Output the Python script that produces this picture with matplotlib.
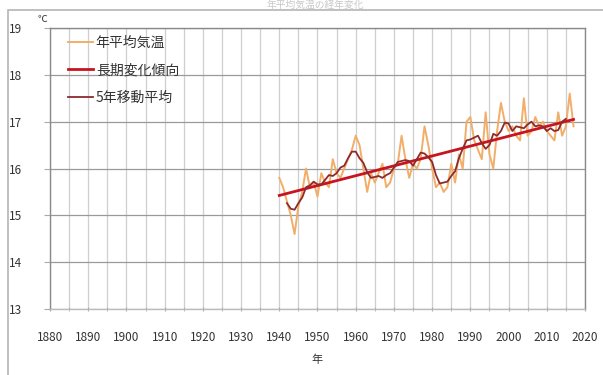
import matplotlib
matplotlib.use("Agg")
import matplotlib.pyplot as plt
from matplotlib.patches import Rectangle
import numpy as np
import pandas as pd

plt.rcParams['font.family'] = ['Noto Sans CJK JP', 'DejaVu Sans']

# Annual mean temperature (°C), 1940-2017
years = list(range(1940, 2018))
annual_temp = [
    15.8, 15.6, 15.3, 15.0, 14.6, 15.2, 15.5, 16.0, 15.6, 15.7,   # 1940s
    15.4, 15.9, 15.7, 15.6, 16.2, 15.9, 15.8, 16.0, 16.2, 16.4,   # 1950s
    16.7, 16.5, 16.0, 15.5, 15.9, 15.7, 15.9, 16.1, 15.6, 15.7,   # 1960s
    16.0, 16.1, 16.7, 16.2, 15.8, 16.1, 16.0, 16.2, 16.9, 16.5,   # 1970s
    16.0, 15.6, 15.7, 15.5, 15.6, 16.1, 15.7, 16.3, 16.0, 17.0,   # 1980s
    17.1, 16.6, 16.4, 16.2, 17.2, 16.3, 16.0, 16.8, 17.4, 17.0,   # 1990s
    16.8, 16.9, 16.7, 16.6, 17.5, 16.7, 16.8, 17.1, 16.9, 17.0,   # 2000s
    16.8, 16.7, 16.6, 17.2, 16.7, 16.9, 17.6, 16.9,               # 2010s
]

labels = ['年平均気温', '長期変化傾向', '5年移動平均']
x_ticks = list(range(1880, 2021, 10))
y_ticks = list(range(13, 20))

s = pd.Series(annual_temp, index=years)
moving_avg = s.rolling(5, center=True).mean()
coef = np.polyfit(years, annual_temp, 1)
trend = np.polyval(coef, years)

fig = plt.figure(figsize=(6.03, 3.75), dpi=100)
ax = fig.add_axes([50 / 603, 1 - 309 / 375, 535 / 603, 281 / 375])

ax.plot(years, annual_temp, color='#F2AE68', lw=1.4, label=labels[0], zorder=3)
ax.plot(years, trend, color='#C8141E', lw=2.0, label=labels[1], zorder=4)
ax.plot(moving_avg.index, moving_avg.values, color='#8E2A2E', lw=1.3,
        label=labels[2], zorder=5)

ax.set_xlim(1880, 2020)
ax.set_ylim(13, 19)
ax.set_xticks(x_ticks)
ax.set_xticks(list(range(1885, 2020, 10)), minor=True)
ax.set_yticks(y_ticks)
ax.grid(which='both', axis='x', color='#CFCFCF', lw=0.9)
ax.grid(which='major', axis='y', color='#9A9A9A', lw=0.9)
ax.set_axisbelow(True)

for sp in ax.spines.values():
    sp.set_color('#8A8A8A')
    sp.set_linewidth(1.0)
ax.spines['bottom'].set_color('#BBBBBB')

ax.tick_params(axis='x', which='both', length=3, direction='inout',
               color='#AAAAAA', labelsize=8.5, pad=14, labelcolor='#333333')
ax.tick_params(axis='y', length=4, direction='out', color='#AAAAAA',
               labelsize=8.5, pad=16, labelcolor='#333333')

ax.set_xlabel('年', fontsize=8, color='#333333', labelpad=8)
fig.text(38 / 603, 1 - 19 / 375, '℃', fontsize=7, color='#333333',
         ha='left', va='center')

leg = ax.legend(loc='upper left', bbox_to_anchor=(68 / 603, 1 - 36 / 375),
                bbox_transform=fig.transFigure, frameon=False, fontsize=10,
                handlelength=1.8, handletextpad=0.2, labelspacing=0.95,
                borderaxespad=0, borderpad=0)
for t in leg.get_texts():
    t.set_color('#333333')

# Chart frame and faint heading
fig.patches.append(Rectangle((8 / 603, -0.1), 1.2, 1 - 10 / 375 + 0.1,
                             transform=fig.transFigure, fill=False,
                             edgecolor='#B5B5B5', lw=1.2))
fig.text(315 / 603, 1 - 5 / 375, '年平均気温の経年変化', fontsize=7,
         color='#C8C8C8', ha='center', va='center')

fig.savefig('out.png', dpi=100)
